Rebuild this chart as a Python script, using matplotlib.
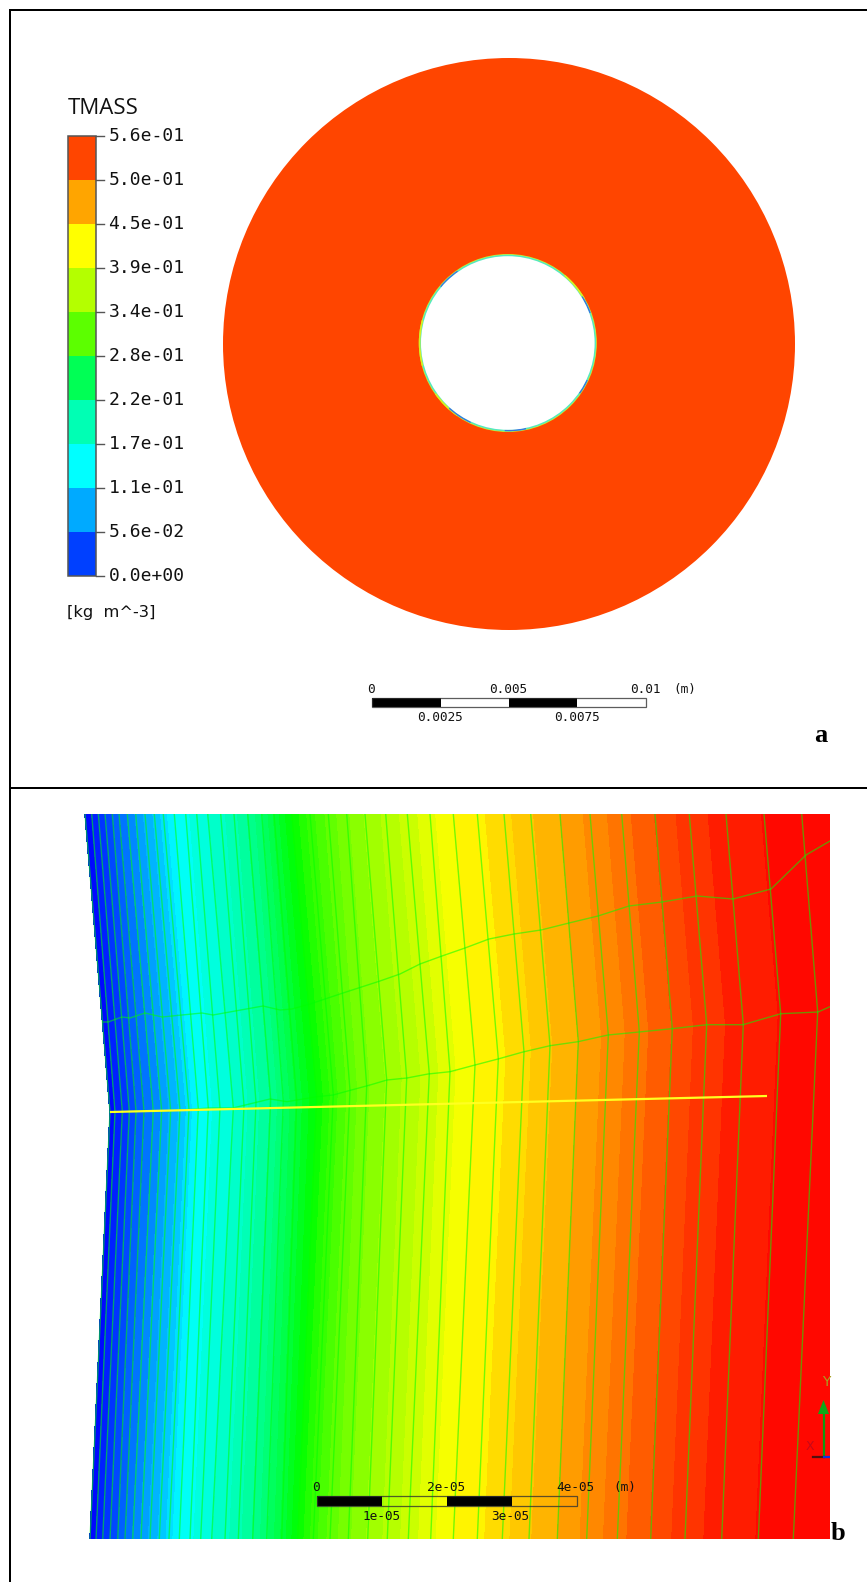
import numpy as np
import matplotlib
matplotlib.use("Agg")
import matplotlib.pyplot as plt
from matplotlib.colors import LinearSegmentedColormap
from matplotlib.patches import Rectangle, Wedge, Polygon, Circle

# ---------- panel a data ----------
legend_labels = ["5.6e-01", "5.0e-01", "4.5e-01", "3.9e-01", "3.4e-01", "2.8e-01",
                 "2.2e-01", "1.7e-01", "1.1e-01", "5.6e-02", "0.0e+00"]
legend_colors = ["#FF4500", "#FFA500", "#FFFF00", "#B4FF00", "#5CFF00",
                 "#00FF55", "#00FFB4", "#00FFFF", "#00AAFF", "#0040FF"]
outer_radius = 286
rim_arcs_yellow = [(165, 195), (30, 50), (215, 235)]
rim_arcs_blue = [(125, 140), (20, 32), (228, 245), (-35, -25), (268, 282)]

scale_a_labels_top = ["0", "0.005", "0.01", "(m)"]
scale_a_labels_bottom = ["0.0025", "0.0075"]
scale_b_labels_top = ["0", "2e-05", "4e-05", "(m)"]
scale_b_labels_bottom = ["1e-05", "3e-05"]

# ---------- panel b data: mesh lines (pixels) ----------
mesh_top = [85, 91.7, 98.3, 105, 112.3, 119, 127.3, 135.7, 145, 154.3, 163.3, 174.3,
            185.7, 196.7, 207.7, 220.7, 234, 247.7, 261.7, 274, 291.7, 310, 328.3,
            346.7, 365, 385.7, 407.3, 430, 453.3, 477.3, 504, 530.7, 560, 590, 621.7,
            655, 689.3, 726, 764, 801.7]
mesh_kink = [110, 115, 122.3, 129.3, 136, 144, 153.3, 161.7, 170.7, 180, 189, 198.3,
             208.3, 220, 233.3, 244, 256, 270.7, 283.3, 296.7, 316.7, 333.3, 350,
             366.7, 386.7, 406.7, 429.3, 450, 475, 498.3, 524, 550, 578.3, 608.3,
             639.3, 672.3, 706.7, 743.3, 780.7, 817.7]
mesh_bottom = [90, 96, 102.7, 110, 117.7, 125, 132.7, 141, 150, 159.3, 169, 179.3,
               190, 200.7, 211.7, 225, 238.3, 252.7, 266.7, 281.7, 297.7, 313.3,
               330, 348.3, 367.7, 387.3, 408.3, 430.7, 453.3, 477.3, 502.3, 529,
               557.3, 586.7, 617.3, 650.7, 685, 721.7, 758.3, 793.3]
mesh_value = [0.0, 0.02, 0.04, 0.06, 0.08, 0.10, 0.125, 0.147, 0.17, 0.19, 0.215,
              0.25, 0.265, 0.28, 0.29, 0.305, 0.325, 0.355, 0.39, 0.44, 0.50, 0.55,
              0.59, 0.62, 0.647, 0.672, 0.696, 0.722, 0.75, 0.765, 0.784, 0.81, 0.833,
              0.86, 0.887, 0.917, 0.95, 0.966, 0.98, 0.985]
kink_row_x = [110, 170, 210, 233, 270, 287, 317, 333, 370, 387, 407, 428, 450, 475,
              498, 523, 550, 578, 608, 639, 672, 707, 743, 781, 818, 830]
kink_row_y = [1112, 1110.7, 1108, 1108, 1099, 1101.7, 1096.7, 1095, 1085, 1080, 1078,
              1074, 1071.7, 1065, 1059, 1052, 1045.7, 1041.7, 1035, 1032, 1028.7,
              1024.7, 1024.7, 1013.7, 1012, 1006.7]
upper_row_x = [103, 108, 122, 130, 145, 162, 202, 213, 263, 280, 292, 310, 343, 380,
               400, 420, 442, 465, 489, 514, 541, 569, 598, 629, 662, 697, 733, 771,
               806, 830]
upper_row_y = [1022, 1022, 1017, 1018, 1013, 1017, 1013, 1015, 1006, 1010, 1009, 1004,
               993, 981, 974, 964, 956, 948, 939, 934, 930, 923, 916, 906, 902, 896,
               899, 889, 855, 841]
probe_x = [110, 767]
probe_y = [1112, 1096]

W, H = 867, 1582
PANEL_B = (85, 814, 830, 1539)

plt.rcParams["font.family"] = ["DejaVu Sans"]
fig = plt.figure(figsize=(W / 100, H / 100), dpi=100, facecolor="white")
ax = fig.add_axes([0, 0, 1, 1])
ax.set_xlim(0, W)
ax.set_ylim(H, 0)
ax.axis("off")

# ---------- frame ----------
for (x0, y0, x1, y1) in [(9, 10, W, 10), (10, 9, 10, H), (10, 788, W, 788)]:
    ax.plot([x0, x1], [y0, y1], color="black", lw=1.44, solid_capstyle="butt")

# ---------- panel a ----------
cx, cy = 509, 344
hx, hy = 507.8, 343
ax.add_patch(Circle((cx, cy), outer_radius, fc="#FF4500", ec="none"))
ax.add_patch(Circle((hx, hy), 89.0, fc="#C8F030", ec="none"))
ax.add_patch(Circle((hx, hy), 88.3, fc="#55E8C0", ec="none"))
for a0, a1 in rim_arcs_yellow:
    ax.add_patch(Wedge((hx, hy), 89.0, -a1, -a0, width=1.6, fc="#D8F020", ec="none"))
for a0, a1 in rim_arcs_blue:
    ax.add_patch(Wedge((hx, hy), 88.3, -a1, -a0, width=1.6, fc="#3878E0", ec="none"))
ax.add_patch(Circle((hx, hy), 86.8, fc="white", ec="none"))

bar_x0, bar_x1, bar_top, bar_bottom = 68, 96, 136, 576
step = (bar_bottom - bar_top) / len(legend_colors)
for i, color in enumerate(legend_colors):
    ax.add_patch(Rectangle((bar_x0, bar_top + i * step), bar_x1 - bar_x0, step, fc=color, ec="none"))
ax.add_patch(Rectangle((bar_x0, bar_top), bar_x1 - bar_x0, bar_bottom - bar_top, fc="none", ec="#555555", lw=1.1))
mono = "DejaVu Sans Mono"
for i, label in enumerate(legend_labels):
    y = bar_top + i * step
    ax.plot([bar_x1, bar_x1 + 7.5], [y, y], color="#555555", lw=1.0)
    ax.text(108.5, y, label, family=mono, fontsize=13, va="center", ha="left", color="#111111")
ax.text(68, 108, "TMASS", family="Open Sans", fontsize=16, va="center", ha="left", color="#111111")
ax.text(67, 613, "[kg  m^-3]", family="DejaVu Sans", fontsize=11.7, va="center", ha="left", color="#111111")


def scale_bar(x0, x1, y0, y1, top_labels, bottom_labels, top_x, bottom_x, fill_white):
    n = 4
    dx = (x1 - x0) / n
    for i in range(n):
        if i % 2 == 0:
            ax.add_patch(Rectangle((x0 + i * dx, y0), dx, y1 - y0, fc="black", ec="none", zorder=6))
        elif fill_white:
            ax.add_patch(Rectangle((x0 + i * dx, y0), dx, y1 - y0, fc="white", ec="none", zorder=6))
    ax.add_patch(Rectangle((x0, y0), x1 - x0, y1 - y0, fc="none", ec="#333333", lw=0.9, alpha=0.8, zorder=7))
    for lab, x in zip(top_labels, top_x):
        ax.text(x, y0 - 8.5, lab, family=mono, fontsize=9.2, ha="center", va="center", color="#111111", zorder=7)
    for lab, x in zip(bottom_labels, bottom_x):
        ax.text(x, y1 + 10.5, lab, family=mono, fontsize=9.2, ha="center", va="center", color="#111111", zorder=7)


scale_bar(372.3, 645.7, 698.3, 707.3, scale_a_labels_top, scale_a_labels_bottom,
          [371, 508, 645, 685], [440, 577], True)
ax.text(820.7, 742, "a", family="Liberation Serif", fontweight="bold", fontsize=19, ha="center",
        va="baseline", color="black")

# ---------- panel b ----------
xl, yt, xr, yb = PANEL_B
rainbow = LinearSegmentedColormap.from_list(
    "rainbow5", ["#0000FF", "#00FFFF", "#00FF00", "#FFFF00", "#FF0000"])
top = np.array(mesh_top + [xr + 6])
kink = np.array(mesh_kink + [xr + 6])
bottom = np.array(mesh_bottom + [xr + 6])
vals = np.array(mesh_value + [0.99])
kink_y = np.interp(kink, kink_row_x, kink_row_y)
X = np.vstack([top, kink, bottom])
Y = np.vstack([np.full_like(top, yt), kink_y, np.full_like(top, yb)])
Z = np.vstack([vals, vals, vals])
levels = np.linspace(0, 1, 49)
colors = [rainbow((a + b) / 2) for a, b in zip(levels[:-1], levels[1:])]
clip = Rectangle((xl - 2, yt), xr - xl + 2, yb - yt, transform=ax.transData)
cs = ax.contourf(X, Y, Z, levels=levels, colors=colors, zorder=2)
cs.set_edgecolor("face")
cs.set_linewidth(0.4)
cs.set_clip_path(clip)

line_style = dict(color="#00FF00", alpha=0.55, lw=1.0, zorder=3)
for i in range(len(mesh_top)):
    ln, = ax.plot(X[:, i], Y[:, i], **line_style)
    ln.set_clip_path(clip)
for xs, ys in [(kink_row_x, kink_row_y), (upper_row_x, upper_row_y)]:
    ln, = ax.plot(xs, ys, **line_style)
    ln.set_clip_path(clip)
ax.plot(probe_x, probe_y, color="#FFFF20", lw=1.6, zorder=4, solid_capstyle="butt")

scale_bar(316.7, 577, 1495.7, 1505.7, scale_b_labels_top, scale_b_labels_bottom,
          [316, 446, 575, 624.7], [381.7, 510.7], False)

# triad
ax.plot([823.5, 823.5], [1457, 1410], color="#0E9A10", lw=1.6, zorder=5)
ax.add_patch(Polygon([[823.5, 1400], [818, 1414], [829, 1414]], closed=True, fc="#0CA818", ec="none", zorder=5))
ax.plot([813, 824], [1457, 1457], color="#501010", lw=1.6, zorder=5)
ln, = ax.plot([824, 830], [1457, 1457], color="#1030E0", lw=1.6, zorder=5)
ln.set_clip_path(clip)
t = ax.text(826.5, 1382, "Y", family="DejaVu Sans", fontsize=10, ha="center", va="center", color="#A8A020", zorder=5)
t.set_clip_path(clip)
ax.text(810, 1446, "X", family="DejaVu Sans", fontsize=9, ha="center", va="center", color="#C80818", zorder=5)

ax.text(838, 1540, "b", family="Liberation Serif", fontweight="bold", fontsize=19, ha="center",
        va="baseline", color="black")

fig.savefig("out.png", dpi=100, facecolor="white")
